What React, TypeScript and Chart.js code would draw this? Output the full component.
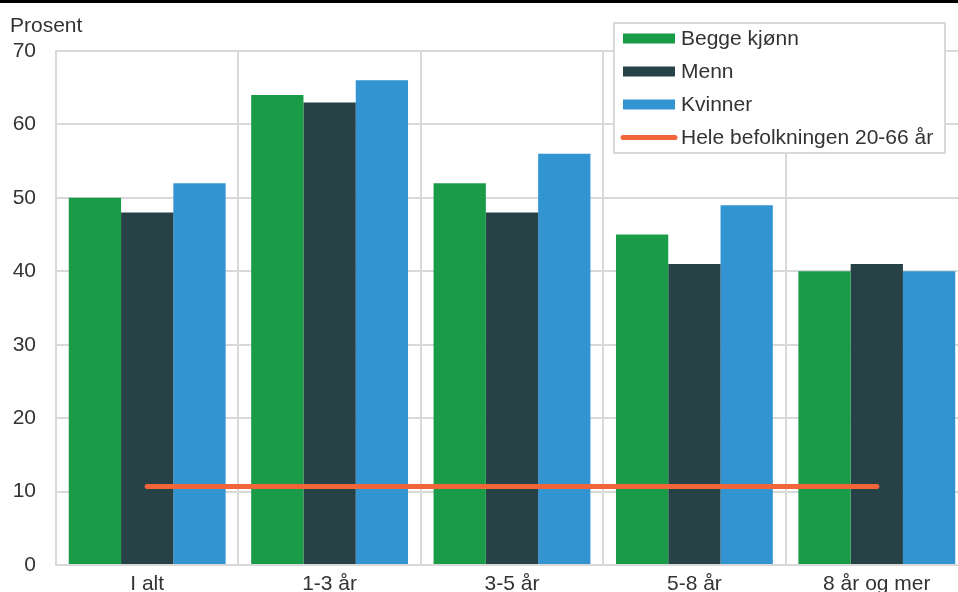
import React, { useEffect, useRef } from "react";
import { Chart, registerables } from "chart.js";

Chart.register(...registerables);

const categories = ["I alt", "1-3 år", "3-5 år", "5-8 år", "8 år og mer"];
const beggeKjonn = [50, 64, 52, 45, 40];
const menn = [48, 63, 48, 41, 41];
const kvinner = [52, 66, 56, 49, 40];
const heleBefolkningen = [10.7, 10.7, 10.7, 10.7, 10.7];
const seriesLabels = ["Begge kjønn", "Menn", "Kvinner", "Hele befolkningen 20-66 år"];
const yAxisTitle = "Prosent";
const yMin = 0;
const yMax = 70;
const yStep = 10;

const FONT = "'Liberation Sans', Arial, Helvetica, sans-serif";
const TEXT = "#333333";
const GRID = "#d9d9d9";
const COLORS = ["#1a9b48", "#274247", "#3394d2", "#f26539"];

const decorPlugin = {
  id: "decor",
  afterDraw(chart: any) {
    const ctx = chart.ctx as CanvasRenderingContext2D;
    ctx.save();
    // top black rule
    ctx.fillStyle = "#000000";
    ctx.fillRect(0, 0, chart.width, 3);
    // y title
    ctx.fillStyle = TEXT;
    ctx.font = `21px ${FONT}`;
    ctx.textBaseline = "middle";
    ctx.textAlign = "left";
    ctx.fillText(yAxisTitle, 10, 26);
    // legend box
    const x0 = 614, y0 = 23, w = 331, h = 130;
    ctx.fillStyle = "#ffffff";
    ctx.fillRect(x0, y0, w, h);
    ctx.strokeStyle = GRID;
    ctx.lineWidth = 2;
    ctx.strokeRect(x0, y0, w, h);
    chart.data.datasets.forEach((ds: any, i: number) => {
      const cy = 38.5 + i * 33;
      if (ds.type === "line") {
        ctx.strokeStyle = ds.borderColor;
        ctx.lineWidth = 5;
        ctx.lineCap = "round";
        ctx.beginPath();
        ctx.moveTo(623, cy);
        ctx.lineTo(675, cy);
        ctx.stroke();
      } else {
        ctx.fillStyle = ds.backgroundColor;
        ctx.fillRect(623, cy - 5, 52, 10);
      }
      ctx.fillStyle = TEXT;
      ctx.font = `21px ${FONT}`;
      ctx.textBaseline = "middle";
      ctx.fillText(ds.label, 681, cy + 1);
    });
    ctx.restore();
  },
};

export default function App() {
  const ref = useRef<HTMLCanvasElement | null>(null);

  useEffect(() => {
    if (!ref.current) return;
    const chart = new Chart(ref.current, {
      data: {
        labels: categories,
        datasets: [
          {
            type: "bar",
            label: seriesLabels[0],
            data: beggeKjonn,
            backgroundColor: COLORS[0],
            borderWidth: 0,
            order: 1,
          },
          {
            type: "bar",
            label: seriesLabels[1],
            data: menn,
            backgroundColor: COLORS[1],
            borderWidth: 0,
            order: 1,
          },
          {
            type: "bar",
            label: seriesLabels[2],
            data: kvinner,
            backgroundColor: COLORS[2],
            borderWidth: 0,
            order: 1,
          },
          {
            type: "line",
            label: seriesLabels[3],
            data: heleBefolkningen,
            borderColor: COLORS[3],
            backgroundColor: COLORS[3],
            borderWidth: 5,
            borderCapStyle: "round",
            pointRadius: 0,
            fill: false,
            order: 0,
          },
        ] as any,
      },
      options: {
        responsive: false,
        animation: false,
        layout: { padding: { top: 51, right: 12, bottom: 0, left: 0 } },
        datasets: {
          bar: { categoryPercentage: 0.86, barPercentage: 1 },
        } as any,
        plugins: {
          legend: { display: false },
          tooltip: { enabled: false },
          title: { display: false },
        },
        scales: {
          x: {
            grid: { color: GRID, lineWidth: 2, drawTicks: false, offset: true },
            border: { color: GRID, width: 2 },
            ticks: {
              color: TEXT,
              font: { family: FONT, size: 21 },
              padding: 7,
              maxRotation: 0,
              autoSkip: false,
            },
            afterFit: (s: any) => {
              s.height = 35;
            },
          },
          y: {
            min: yMin,
            max: yMax,
            grid: { color: GRID, lineWidth: 2, drawTicks: false },
            border: { color: GRID, width: 2 },
            ticks: {
              stepSize: yStep,
              color: TEXT,
              font: { family: FONT, size: 21 },
              padding: 20,
            },
            afterFit: (s: any) => {
              s.width = 56;
            },
          },
        },
      } as any,
      plugins: [decorPlugin],
    });
    return () => chart.destroy();
  }, []);

  return (
    <div
      style={{
        position: "fixed",
        left: 0,
        top: 0,
        width: 958,
        height: 592,
        overflow: "hidden",
        background: "#ffffff",
      }}
    >
      <canvas ref={ref} width={980} height={600} style={{ width: 980, height: 600, display: "block" }} />
    </div>
  );
}
